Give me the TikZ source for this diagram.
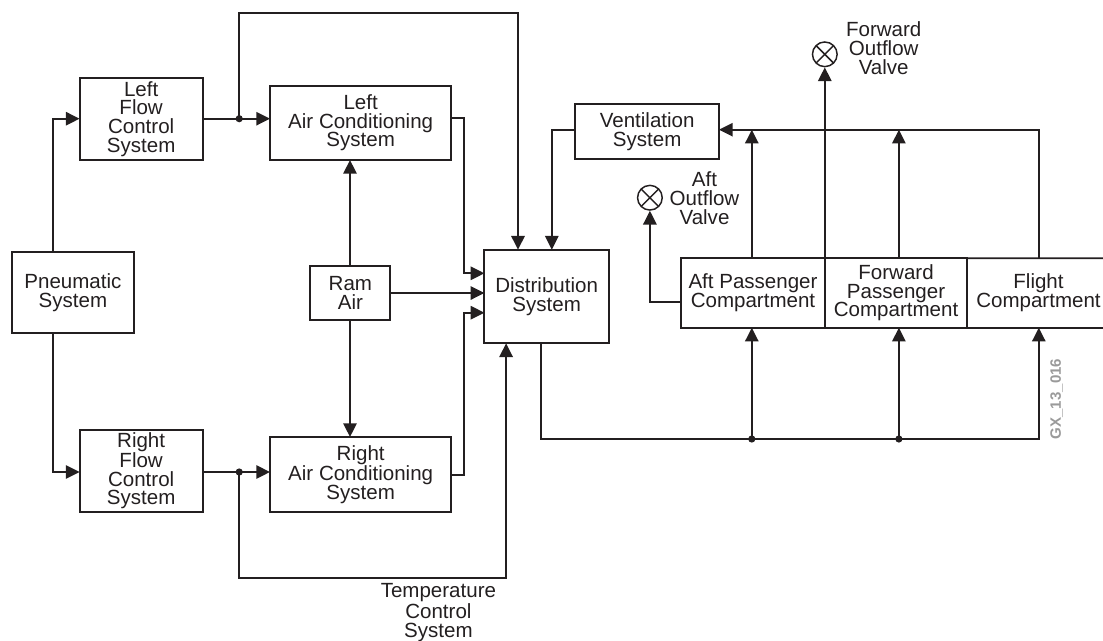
\documentclass[tikz,border=0pt]{standalone}
\usepackage{fontspec}
\setmainfont{Liberation Sans}
\usetikzlibrary{arrows.meta}
\definecolor{ink}{HTML}{231F20}
\definecolor{tag}{HTML}{9A9A9A}
\tikzset{
  wire/.style={draw=ink,line width=1.4pt,line join=miter},
  flow/.style={wire,-{Triangle[length=10.3pt,width=10pt]}},
  lbl/.style={font=\fontsize{15.4}{14}\selectfont,text=ink,align=center,inner sep=0pt},
  sysbox/.style={lbl,draw=ink,line width=1.4pt,rectangle,outer sep=0pt},
  junction/.style={circle,fill=ink,inner sep=0pt,minimum size=5.4pt},
  valve/.style={circle,draw=ink,line width=1.1pt,inner sep=0pt,minimum size=18.5pt,path picture={
    \draw[ink,line width=1.1pt] (path picture bounding box.north west) -- (path picture bounding box.south east)
      (path picture bounding box.north east) -- (path picture bounding box.south west);}},
}
\newcommand{\pbox}[6]{\node[sysbox,minimum width=#4*0.75pt-#2*0.75pt,minimum height=#5*0.75pt-#3*0.75pt] (#1) at ({(#2+#4)/2},{(#3+#5)/2}) {#6};}
\begin{document}
\begin{tikzpicture}[x=0.75pt,y=-0.75pt]
\useasboundingbox (0,0) rectangle (1103,640);
\pbox{pneu}{11.6}{252}{134.3}{333.3}{Pneumatic\\System}
\pbox{lfcs}{79.6}{78}{202.7}{159.7}{Left\\Flow\\Control\\System}
\pbox{rfcs}{79.6}{429.7}{202.7}{511.7}{Right\\Flow\\Control\\System}
\pbox{lac}{270}{85.7}{451.4}{160}{Left\\Air Conditioning\\System}
\pbox{rac}{270}{437}{451.4}{511.7}{Right\\Air Conditioning\\System}
\pbox{ram}{310.4}{266}{390.4}{320}{Ram\\Air}
\pbox{dist}{484.4}{249.7}{608.9}{343.3}{Distribution\\System}
\pbox{vent}{575.4}{104}{719}{159.3}{Ventilation\\System}
\pbox{aft}{681.2}{258.3}{824.8}{327.7}{Aft Passenger\\Compartment}
\pbox{fwd}{824.8}{258.3}{967.3}{327.7}{Forward\\Passenger\\Compartment}
\node[lbl] (flt) at (1038.5,293) {Flight\\Compartment};
\coordinate (edgetop) at (1103,258.3);
\coordinate (edgebot) at (1103,327.7);
\draw[wire] (fwd.north east) -- (edgetop);
\draw[wire] (fwd.south east) -- (edgebot);
\node[valve] (fv) at (824.8,54.3) {};
\node[valve] (av) at (649.9,197.7) {};
\node[lbl] (fvt) at (883.7,48) {Forward\\Outflow\\Valve};
\node[lbl] (avt) at (704.5,198) {Aft\\Outflow\\Valve};
\node[lbl] (tct) at (438.4,612.6) {Temperature\\Control\\System};
\node[font=\bfseries\fontsize{11.3}{12}\selectfont,text=tag,rotate=90,inner sep=0pt] (gx) at (1056.5,399) {GX\_13\_016};
\coordinate (t1) at (239.2,13);
\coordinate (t2) at (239.2,577.7);
\node[junction] (jl) at (239.2,118.7) {};
\node[junction] (jr) at (239.2,472) {};
\node[junction] (ja) at (751.8,439) {};
\node[junction] (jf) at (898.9,439) {};
% pneumatic to flow control
\draw[flow] (pneu.north -| 52.6,0) |- (lfcs.west |- jl);
\draw[flow] (pneu.south -| 52.6,0) |- (rfcs.west |- jr);
% flow control to air conditioning
\draw[wire] (lfcs.east |- jl) -- (jl.center);
\draw[flow] (jl.center) -- (lac.west |- jl);
\draw[wire] (rfcs.east |- jr) -- (jr.center);
\draw[flow] (jr.center) -- (rac.west |- jr);
% bypass lines
\draw[flow] (jl.center) |- (t1) -| (dist.north -| 518,0);
\draw[flow] (jr.center) |- (t2) -| (dist.south -| 506.1,0);
% ram air
\draw[flow] (ram.north -| 350,0) -- (lac.south -| 350,0);
\draw[flow] (ram.south -| 350,0) -- (rac.north -| 350,0);
\draw[flow] (ram.east |- 0,293) -- (dist.west |- 0,293);
% air conditioning to distribution
\draw[flow] (lac.east |- 0,118.3) -| (464.4,273.3) -- (dist.west |- 0,273.3);
\draw[flow] (rac.east |- 0,475) -| (464.4,312.7) -- (dist.west |- 0,312.7);
% ventilation
\draw[flow] (vent.west |- 0,129.7) -| (dist.north -| 551.8,0);
\draw[flow] (edgetop -| 1038.8,0) |- (vent.east |- 0,129.7);
\draw[flow] (aft.north -| 751.8,0) -- (751.8,129.7);
\draw[flow] (fwd.north -| 898.9,0) -- (898.9,129.7);
% outflow
\draw[flow] (aft.north east) -- (fv.south);
\draw[flow] (aft.west |- 0,302) -| (av.south);
% bottom bus
\draw[wire] (dist.south -| 540.9,0) |- (ja.center);
\draw[wire] (ja.center) -- (jf.center);
\draw[flow] (jf.center) -| (edgebot -| 1038.8,0);
\draw[flow] (ja.center) -- (aft.south -| 751.8,0);
\draw[flow] (jf.center) -- (fwd.south -| 898.9,0);
\end{tikzpicture}
\end{document}
